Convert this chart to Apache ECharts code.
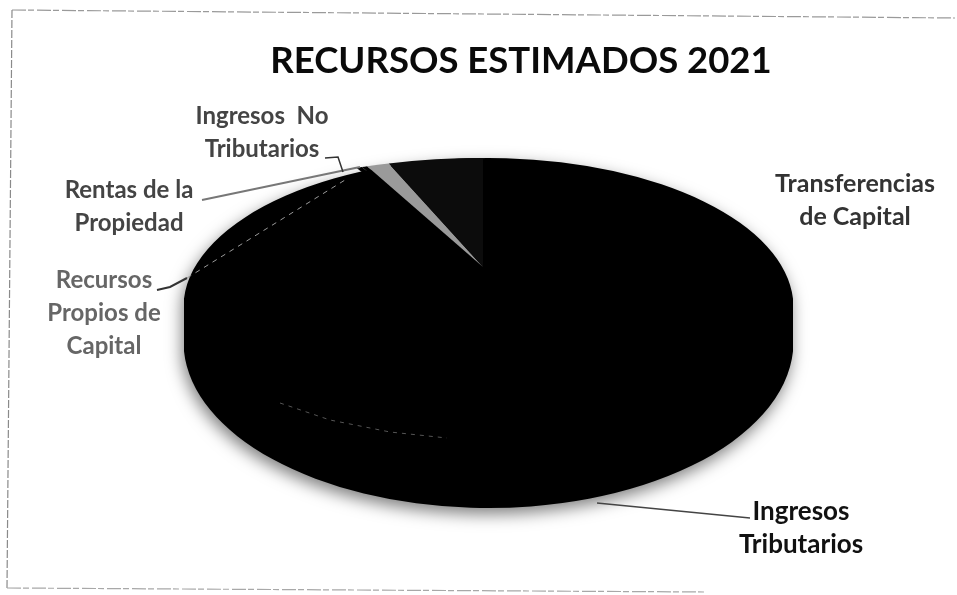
<!DOCTYPE html>
<html><head><meta charset="utf-8">
<style>html,body{margin:0;padding:0;background:#fff}#c{width:957px;height:595px}</style>
<script src="https://cdn.jsdelivr.net/npm/echarts@6/dist/echarts.min.js"></script>
</head><body><div id="c"></div>
<script>
// Values, clockwise from 12 o'clock (share of total, %)
var categories = ['Ingresos Tributarios','Recursos Propios de Capital','Rentas de la Propiedad','Ingresos No Tributarios','Transferencias de Capital'];
var values = [93.2, 0.3, 0.3, 1.2, 5.0];
var sliceColors = ['#000000','#000000','#000000','#9a9a9a','#0c0c0c'];
var titleText = 'RECURSOS ESTIMADOS 2021';

var total = values.reduce(function(a,b){return a+b;},0);
var FONT = 'Lato, "Open Sans", sans-serif';
var chart = echarts.init(document.getElementById('c'),null,{renderer:'canvas'});

function label(text,x,y,color,size){
  return {type:'text',z:10,x:x,y:y,style:{text:text,fill:color,font:'bold '+(size||24)+'px '+FONT,align:'center',verticalAlign:'middle',lineHeight:33}};
}
function line(pts,color,w,dash){
  return {type:'polyline',z:8,shape:{points:pts},style:{stroke:color,lineWidth:w,fill:null,lineDash:dash||null}};
}
chart.setOption({
  animation:false,
  backgroundColor:'#fff',
  title:{text:titleText,left:516,top:38,textAlign:'center',textStyle:{fontFamily:FONT,fontWeight:'bold',fontSize:36.5,color:'#0a0a0a'}},
  graphic:[
    // speckled scan frame
    line([[12,10],[955,18]],'#9a9a9a',1.2,[14,2,6,3]),
    line([[12,10],[7,588]],'#8a8a8a',1.2,[8,2]),
    line([[7,588],[705,592]],'#a8a8a8',1.2,[14,2,6,3]),
    // leader lines
    line([[597,503],[750,518]],'#444',1.6),
    line([[202,200],[360,167]],'#777',2),
    line([[157,290],[170,287],[187,278]],'#333',2),
    line([[187,278],[345,180]],'#999',1,[5,5]),
    line([[325,158],[338,157],[343,172]],'#333',1.5),
    // faint edge of the top face
    line([[280,403],[330,420],[390,432],[447,438]],'#555',1,[4,5]),
    // labels
    label('Ingresos  No\nTributarios',262,133,'#444'),
    label('Rentas de la\nPropiedad',129,207,'#444'),
    label('Recursos\nPropios de\nCapital',104,313,'#666'),
    label('Transferencias\nde Capital',855,200,'#333',25),
    label('Ingresos\nTributarios',801,528,'#111',26)
  ],
  series:[{
    // pie body: perspective silhouette plus depth
    type:'custom',coordinateSystem:'none',z:1,silent:true,data:[0],
    renderItem:function(){
      return {type:'path',shape:{pathData:'M184 300 A305 142 0 0 1 793 300 L793 350 A305 158 0 0 1 184 350 Z',x:184,y:158,width:609,height:350,layout:'cover'},
        style:{fill:'#000',shadowBlur:16,shadowColor:'rgba(0,0,0,0.5)',shadowOffsetX:-2,shadowOffsetY:6}};
    }
  },{
    type:'custom',coordinateSystem:'none',z:3,silent:true,
    data:categories.map(function(n,i){return {name:n,value:values[i]};}),
    renderItem:function(params,api){
      var i=params.dataIndex,before=0;
      for(var k=0;k<i;k++)before+=values[k];
      var a0=-Math.PI/2+before/total*2*Math.PI;
      var a1=a0+api.value(0)/total*2*Math.PI;
      // the large black slice stays inside the silhouette; the narrow back slices reach its rim
      var big=i===0;
      return {type:'sector',x:483,y:267,scaleY:big?0.3:0.357,
        shape:{cx:0,cy:0,r0:0,r:big?280:305,startAngle:a0,endAngle:a1,clockwise:true},
        style:{fill:sliceColors[i],stroke:null}};
    }
  }]
});
</script></body></html>
